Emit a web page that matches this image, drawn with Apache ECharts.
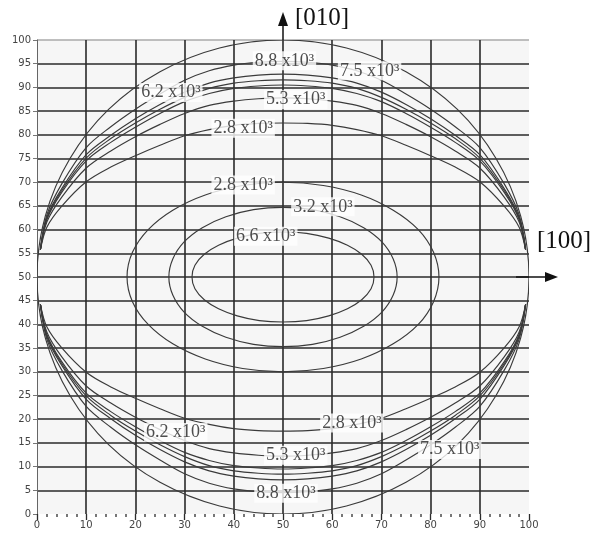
<!DOCTYPE html>
<html>
<head>
<meta charset="utf-8">
<script src="https://cdn.jsdelivr.net/npm/echarts@6/dist/echarts.min.js"></script>
<style>html,body{margin:0;padding:0;background:#fff}#c{width:596px;height:533px}</style>
</head>
<body>
<div id="c"></div>
<script>
// ---- data ----
const AXIS_MAX = 100;
// outer circle (closed)
const C_X = [100,98.3,93.3,85.4,75,62.9,50,37.1,25,14.6,6.7,1.7,0,1.7,6.7,14.6,25,37.1,50,62.9,75,85.4,93.3,98.3];
const C_Y = [50,62.9,75,85.4,93.3,98.3,100,98.3,93.3,85.4,75,62.9,50,37.1,25,14.6,6.7,1.7,0,1.7,6.7,14.6,25,37.1];
// inner ellipses (closed)
const E1_X = [68.5,67.9,66,63.1,59.3,54.8,50,45.2,40.7,36.9,34,32.1,31.5,32.1,34,36.9,40.7,45.2,50,54.8,59.3,63.1,66,67.9];
const E1_Y = [50,52.5,54.8,56.7,58.2,59.2,59.5,59.2,58.2,56.7,54.8,52.5,50,47.5,45.2,43.3,41.8,40.8,40.5,40.8,41.8,43.3,45.2,47.5];
const E2_X = [73.2,72.4,70.1,66.4,61.6,56,50,44,38.4,33.6,29.9,27.6,26.8,27.6,29.9,33.6,38.4,44,50,56,61.6,66.4,70.1,72.4];
const E2_Y = [50,53.8,57.4,60.4,62.7,64.2,64.7,64.2,62.7,60.4,57.4,53.8,50,46.2,42.6,39.6,37.3,35.8,35.3,35.8,37.3,39.6,42.6,46.2];
const E3_X = [81.7,80.6,77.5,72.4,65.9,58.2,50,41.8,34.2,27.6,22.6,19.4,18.3,19.4,22.6,27.6,34.2,41.8,50,58.2,65.9,72.4,77.5,80.6];
const E3_Y = [50,55.2,60,64.1,67.3,69.3,70,69.3,67.3,64.1,60,55.2,50,44.8,40,35.9,32.7,30.7,30,30.7,32.7,35.9,40,44.8];
// lens-shaped families (open)
const FAM_X = [0.7,2,5,10,15,20,25,30,35,40,45,50,55,60,65,70,75,80,85,90,95,98,99.3];
const T1 = [55.8,63.1,69.6,77.3,81.7,85.4,88.6,91.5,93.5,94.7,95.3,95.5,95.3,94.7,93.5,91.5,88.6,85.4,81.7,77.3,69.6,63.1,55.8];
const T2 = [55.8,62.6,68.6,75.8,79.9,83.4,86.4,89.0,90.9,92.0,92.6,92.8,92.6,92.0,90.9,89.0,86.4,83.4,79.9,75.8,68.6,62.6,55.8];
const T3 = [55.8,62.3,68.2,75.1,79.2,82.5,85.4,87.9,89.8,90.9,91.4,91.6,91.4,90.9,89.8,87.9,85.4,82.5,79.2,75.1,68.2,62.3,55.8];
const T4 = [55.8,62.1,67.8,74.5,78.4,81.6,84.5,87.0,88.7,89.8,90.3,90.5,90.3,89.8,88.7,87.0,84.5,81.6,78.4,74.5,67.8,62.1,55.8];
const T5 = [55.8,61.6,66.8,73.0,76.6,79.6,82.2,84.5,86.2,87.1,87.6,87.8,87.6,87.1,86.2,84.5,82.2,79.6,76.6,73.0,66.8,61.6,55.8];
const T6 = [55.8,60.5,64.9,70.1,73.2,75.6,77.8,79.8,81.1,82.0,82.4,82.5,82.4,82.0,81.1,79.8,77.8,75.6,73.2,70.1,64.9,60.5,55.8];
const B1 = [44.2,36.9,30.4,22.7,18.3,14.6,11.4,8.5,6.5,5.3,4.7,4.5,4.7,5.3,6.5,8.5,11.4,14.6,18.3,22.7,30.4,36.9,44.2];
const B2 = [44.2,37.4,31.4,24.2,20.1,16.6,13.6,11.0,9.1,8.0,7.4,7.2,7.4,8.0,9.1,11.0,13.6,16.6,20.1,24.2,31.4,37.4,44.2];
const B3 = [44.2,37.7,31.8,24.9,20.8,17.5,14.6,12.1,10.2,9.1,8.6,8.4,8.6,9.1,10.2,12.1,14.6,17.5,20.8,24.9,31.8,37.7,44.2];
const B4 = [44.2,37.9,32.2,25.5,21.6,18.4,15.5,13.0,11.3,10.2,9.7,9.5,9.7,10.2,11.3,13.0,15.5,18.4,21.6,25.5,32.2,37.9,44.2];
const B5 = [44.2,38.4,33.2,27.0,23.4,20.4,17.8,15.5,13.8,12.9,12.4,12.2,12.4,12.9,13.8,15.5,17.8,20.4,23.4,27.0,33.2,38.4,44.2];
const B6 = [44.2,39.5,35.1,29.9,26.8,24.4,22.2,20.2,18.9,18.0,17.6,17.5,17.6,18.0,18.9,20.2,22.2,24.4,26.8,29.9,35.1,39.5,44.2];
// contour labels
const LABEL_TEXT = ['8.8 x10³','7.5 x10³','6.2 x10³','5.3 x10³','2.8 x10³','2.8 x10³','3.2 x10³','6.6 x10³',
                    '6.2 x10³','2.8 x10³','5.3 x10³','7.5 x10³','8.8 x10³'];
const LABEL_X = [50.3,67.6,27.2,52.6,41.9,41.9,58.1,46.5, 28.2,64.0,52.6,83.9,50.6];
const LABEL_Y = [95.6,93.5,88.9,87.4,81.4,69.4,64.8,58.6, 17.2,19.2,12.4,13.6,4.4];
const AXIS_NAME_Y = '[010]';
const AXIS_NAME_X = '[100]';

// ---- chart ----
(function () {
const pairs = (xs, ys) => xs.map((x, i) => [x, ys[i]]);
const closedCurves = [pairs(C_X, C_Y), pairs(E1_X, E1_Y), pairs(E2_X, E2_Y), pairs(E3_X, E3_Y)];
const openCurves = [T1, T2, T3, T4, T5, T6, B1, B2, B3, B4, B5, B6].map(ys => pairs(FAM_X, ys));
const dark = '#2a2a2a';
const yColors = []; for (let v = 0; v <= AXIS_MAX; v += 5) yColors.push(v === 0 ? 'rgba(0,0,0,0)' : (v === AXIS_MAX ? '#aaa' : dark));
const xColors = []; for (let v = 0; v <= AXIS_MAX; v += 10) xColors.push((v === 0 || v === AXIS_MAX) ? 'rgba(0,0,0,0)' : dark);

function curveSeries(d, closed) {
  return {
    type: 'custom', data: d, z: 3, silent: true, animation: false, clip: true,
    renderItem: function (params, api) {
      if (params.dataIndex !== 0) return null;
      const pts = d.map(p => api.coord(p));
      return {
        type: closed ? 'polygon' : 'polyline',
        shape: {points: pts, smooth: 0.33},
        style: {stroke: '#3a3a3a', lineWidth: 1.15, fill: null}
      };
    }
  };
}
const chart = echarts.init(document.getElementById('c'), null, {renderer: 'canvas'});
const series = closedCurves.map(d => curveSeries(d, true)).concat(openCurves.map(d => curveSeries(d, false)));
series.push({
  type: 'scatter', symbolSize: 0, z: 10, animation: false, silent: true,
  data: LABEL_X.map((x, i) => [x, LABEL_Y[i], LABEL_TEXT[i]]),
  label: {
    show: true, position: 'inside', formatter: p => p.value[2],
    fontFamily: 'Liberation Serif', fontSize: 18, color: '#222',
    backgroundColor: '#fff', padding: [1, 2, 0, 2]
  }
});
chart.setOption({
  animation: false,
  backgroundColor: '#fff',
  grid: {left: 37, right: 67, top: 40, bottom: 19, show: true, backgroundColor: '#f6f6f6', borderWidth: 0},
  xAxis: {
    type: 'value', min: 0, max: AXIS_MAX, interval: 10,
    axisLine: {show: false},
    axisTick: {show: true, length: 6, lineStyle: {color: dark, width: 1.3}},
    minorTick: {show: true, splitNumber: 5, length: 3, lineStyle: {color: '#777', width: 2}},
    axisLabel: {fontFamily: 'DejaVu Sans', fontSize: 10, color: '#444', margin: 6},
    splitLine: {show: true, lineStyle: {color: xColors, width: 1.6}}
  },
  yAxis: {
    type: 'value', min: 0, max: AXIS_MAX, interval: 5,
    axisLine: {show: true, lineStyle: {color: '#666', width: 1}},
    axisTick: {show: true, length: 4, lineStyle: {color: '#777'}},
    axisLabel: {fontFamily: 'DejaVu Sans', fontSize: 10, color: '#444', margin: 6},
    splitLine: {show: true, lineStyle: {color: yColors, width: 1.6}}
  },
  series: series
});

const pTop = chart.convertToPixel({xAxisIndex: 0, yAxisIndex: 0}, [50, AXIS_MAX]);
const pRight = chart.convertToPixel({xAxisIndex: 0, yAxisIndex: 0}, [AXIS_MAX, 50]);
chart.setOption({
  graphic: [
    {type: 'line', shape: {x1: pTop[0], y1: pTop[1], x2: pTop[0], y2: pTop[1] - 16}, style: {stroke: '#111', lineWidth: 1.5}, z: 20},
    {type: 'polygon', shape: {points: [[pTop[0] - 5, pTop[1] - 14], [pTop[0] + 5, pTop[1] - 14], [pTop[0], pTop[1] - 28]]}, style: {fill: '#111'}, z: 20},
    {type: 'text', left: pTop[0] + 12, top: pTop[1] - 34, style: {text: AXIS_NAME_Y, font: '25px "Liberation Serif"', fill: '#111'}, z: 20},
    {type: 'line', shape: {x1: pRight[0] - 13, y1: pRight[1], x2: pRight[0] + 18, y2: pRight[1]}, style: {stroke: '#111', lineWidth: 1.5}, z: 20},
    {type: 'polygon', shape: {points: [[pRight[0] + 16, pRight[1] - 5], [pRight[0] + 16, pRight[1] + 5], [pRight[0] + 29, pRight[1]]]}, style: {fill: '#111'}, z: 20},
    {type: 'text', left: pRight[0] + 8, top: pRight[1] - 48, style: {text: AXIS_NAME_X, font: '25px "Liberation Serif"', fill: '#111'}, z: 20}
  ]
});
})();
</script>
</body>
</html>
